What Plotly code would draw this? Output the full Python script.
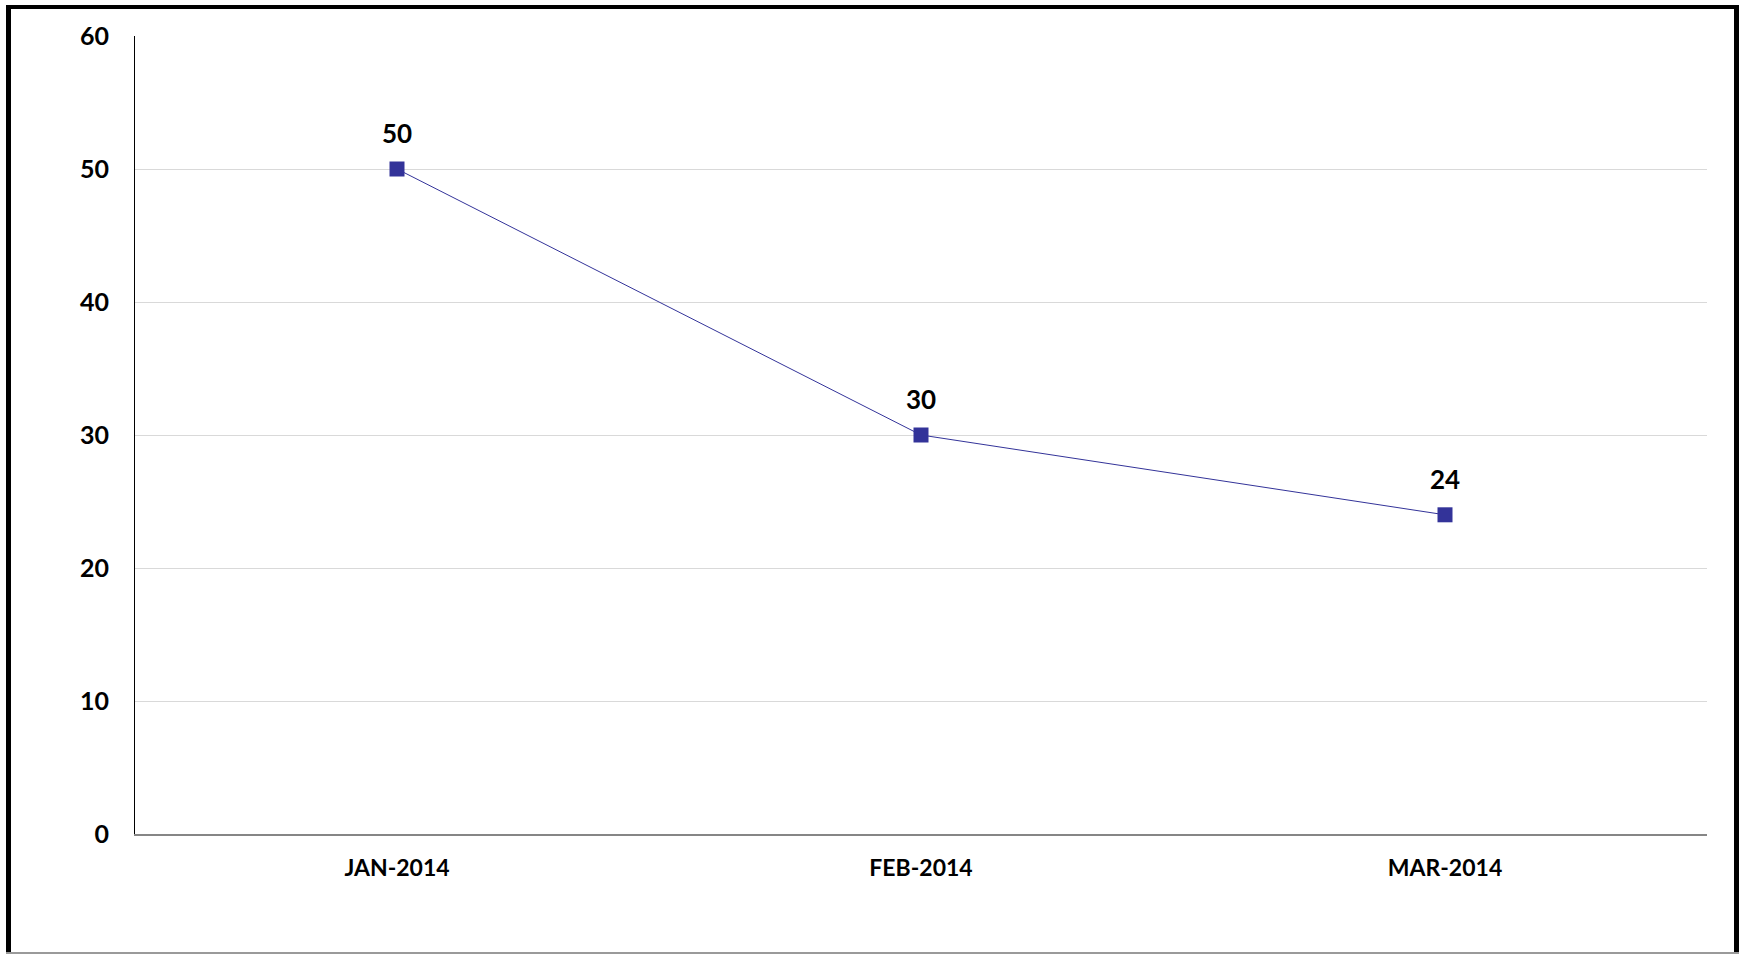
import plotly.graph_objects as go

months = ["JAN-2014", "FEB-2014", "MAR-2014"]
values = [50, 30, 24]
y_ticks = [0, 10, 20, 30, 40, 50, 60]

W, H = 1745, 955
L, R, T, B = 135, 38, 36, 121
PW, PH = W - L - R, H - T - B

def px(x):
    return (x - L) / PW

def py(y):
    return (H - B - y) / PH

FONT = "Lato, 'Open Sans', sans-serif"
color = "#333399"

fig = go.Figure()
fig.add_trace(go.Scatter(
    x=months, y=values, mode="lines+markers",
    line=dict(color=color, width=1),
    marker=dict(symbol="square", size=15, color=color),
    cliponaxis=False, hoverinfo="skip",
))

for m, v in zip(months, values):
    fig.add_annotation(
        x=m, y=v, text=str(v), showarrow=False,
        yanchor="middle", yshift=36,
        font=dict(family=FONT, size=26, color="#000000", weight="bold"),
    )

fig.update_layout(
    width=W, height=H,
    margin=dict(l=L, r=R, t=T, b=B, pad=0),
    paper_bgcolor="white", plot_bgcolor="white",
    showlegend=False,
    font=dict(family=FONT, color="#000000"),
    xaxis=dict(
        type="category", range=[-0.5, 2.5],
        showgrid=False, showline=True, linecolor="#868686", linewidth=2,
        ticks="", tickfont=dict(family=FONT, size=23, weight="bold"),
        ticklabelstandoff=12, zeroline=False, fixedrange=True,
    ),
    yaxis=dict(
        range=[0, 60], tickvals=y_ticks,
        showgrid=True, gridcolor="#d9d9d9", gridwidth=1,
        showline=True, linecolor="#000000", linewidth=1,
        ticks="", tickfont=dict(family=FONT, size=25, weight="bold"),
        ticklabelstandoff=20, zeroline=False, fixedrange=True,
    ),
    shapes=[
        dict(type="line", xref="paper", yref="paper", x0=px(8.5), x1=px(8.5), y0=py(5), y1=py(953),
             line=dict(color="black", width=5)),
        dict(type="line", xref="paper", yref="paper", x0=px(6), x1=px(1739), y0=py(7), y1=py(7),
             line=dict(color="black", width=4)),
        dict(type="line", xref="paper", yref="paper", x0=px(1736.5), x1=px(1736.5), y0=py(5), y1=py(953),
             line=dict(color="black", width=5)),
        dict(type="line", xref="paper", yref="paper", x0=px(6), x1=px(1739), y0=py(953), y1=py(953),
             line=dict(color="#9a9a9a", width=2)),
    ],
)

fig.write_html(
    "out.html",
    config={"displayModeBar": False},
    post_script="document.body.style.margin='0';document.body.style.overflow='hidden';",
)
